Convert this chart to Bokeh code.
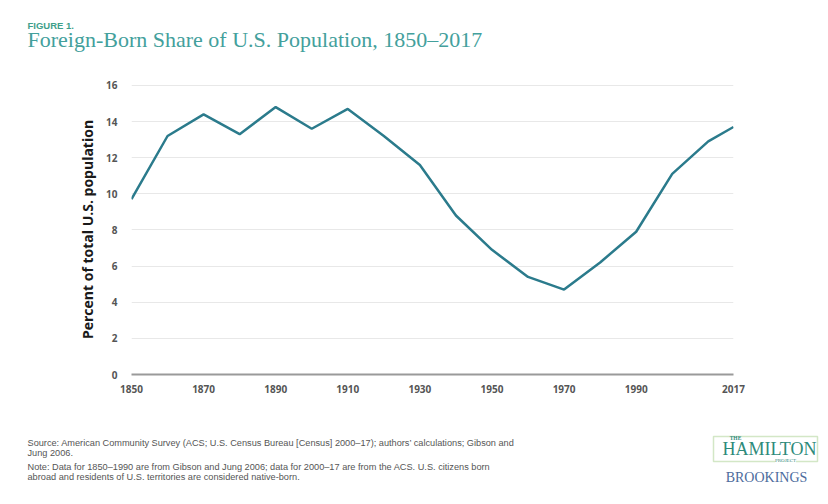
from bokeh.plotting import figure
from bokeh.layouts import column, row
from bokeh.models import Range1d, FixedTicker
from bokeh.core.properties import value
from bokeh.embed import file_html
from bokeh.resources import INLINE

# ---- data ----
years = [1850, 1860, 1870, 1880, 1890, 1900, 1910, 1920, 1930, 1940,
         1950, 1960, 1970, 1980, 1990, 2000, 2010, 2017]
pct = [9.7, 13.2, 14.4, 13.3, 14.8, 13.6, 14.7, 13.2, 11.6, 8.8,
       6.9, 5.4, 4.7, 6.2, 7.9, 11.1, 12.9, 13.7]
x_ticks = [1850, 1870, 1890, 1910, 1930, 1950, 1970, 1990, 2017]
y_ticks = [0, 2, 4, 6, 8, 10, 12, 14, 16]

fig_label = "FIGURE 1."
title = "Foreign-Born Share of U.S. Population, 1850\u20132017"
y_label = "Percent of total U.S. population"
notes = [
    "Source: American Community Survey (ACS; U.S. Census Bureau [Census] 2000\u201317); authors\u2019 calculations; Gibson and",
    "Jung 2006.",
    "Note: Data for 1850\u20131990 are from Gibson and Jung 2006; data for 2000\u201317 are from the ACS. U.S. citizens born",
    "abroad and residents of U.S. territories are considered native-born.",
]

W = 828
H_HEAD, H_MAIN, H_FOOT = 62, 358, 84


def blank(width, height, x0, x1, y0, y1):
    f = figure(width=width, height=height, output_backend="svg",
               toolbar_location=None, x_range=Range1d(x0, x1),
               y_range=Range1d(y1, y0), x_axis_location=None,
               y_axis_location=None, min_border=0)
    f.outline_line_color = None
    f.grid.visible = False
    f.background_fill_color = "white"
    f.border_fill_color = "white"
    return f


# ---- header ----
head = blank(W, H_HEAD, 0, W, 0, H_HEAD)
head.text(x=[27], y=[24.5], text=[fig_label], text_font=value("Liberation Sans"),
          text_font_style="bold", text_font_size="9.5px", text_color="#3fa08a",
          text_baseline="alphabetic")
head.text(x=[27], y=[38.5], text=[title], text_font=value("Liberation Serif"),
          text_font_size="22px", text_color="#43a09c",
          text_baseline="alphabetic")

# ---- main chart ----
p = figure(width=W, height=H_MAIN, output_backend="svg", toolbar_location=None,
           x_range=Range1d(1850, 2017), y_range=Range1d(0, 16.05),
           min_border_left=131, min_border_right=95, min_border_top=22,
           min_border_bottom=46)
p.outline_line_color = None
p.background_fill_color = "white"
p.border_fill_color = "white"

p.line(years, pct, line_color="#2b7b8c", line_width=2.5)

p.xgrid.visible = False
p.ygrid.grid_line_color = "#e8e8e8"
p.ygrid.grid_line_width = 1.2
p.yaxis.ticker = FixedTicker(ticks=y_ticks)
p.xaxis.ticker = FixedTicker(ticks=x_ticks)

for ax in (p.xaxis, p.yaxis):
    ax.major_tick_line_color = None
    ax.minor_tick_line_color = None
    ax.major_label_text_font = "Open Sans"
    ax.major_label_text_font_style = "bold"
    ax.major_label_text_font_size = "10px"
    ax.major_label_text_color = "#555555"

p.yaxis.axis_line_color = None
p.yaxis.major_label_standoff = 8
p.yaxis.axis_label = y_label
p.yaxis.axis_label_text_font = "Open Sans"
p.yaxis.axis_label_text_font_style = "bold"
p.yaxis.axis_label_text_font_size = "14px"
p.yaxis.axis_label_text_color = "#1a1a1a"
p.yaxis.axis_label_standoff = 6

p.xaxis.axis_line_color = "#9a9a9a"
p.xaxis.axis_line_width = 2
p.xaxis.major_label_standoff = 4

# ---- footer: notes ----
NW = 690
foot = blank(NW, H_FOOT, 0, NW, 420, 504)
for txt, yb in zip(notes, [442.3, 452.3, 466.3, 476.5]):
    foot.text(x=[27], y=[yb], text=[txt], text_font=value("Liberation Sans"),
              text_font_size="9.2px", text_color="#555555",
              text_baseline="alphabetic")

# ---- footer: logo ----
logo = blank(W - NW, H_FOOT, NW, W, 420, 504)
logo.quad(left=[713], right=[817], top=[436], bottom=[461], fill_alpha=0,
          line_color="#d3e7c6", line_width=1.5)
logo.text(x=[735], y=[437.5], text=["THE"], text_font=value("Liberation Serif"),
          text_font_style="bold", text_font_size="5.5px", text_color="#2e8a7a",
          text_align="center", text_baseline="alphabetic")
logo.text(x=[769], y=[448.7], text=["HAMILTON"],
          text_font=value("Liberation Serif"), text_font_size="18px",
          text_color="#2e8a7a", text_align="center",
          text_baseline="alphabetic")
logo.text(x=[785], y=[460], text=["PROJECT"],
          text_font=value("Liberation Serif"), text_font_size="5px",
          text_color="#2e8a7a", text_align="center",
          text_baseline="alphabetic", background_fill_color="white")
logo.text(x=[766], y=[476.6], text=["BROOKINGS"],
          text_font=value("Liberation Serif"), text_font_size="14px",
          text_color="#4c6b9c", text_align="center",
          text_baseline="alphabetic")

layout = column(row(head, spacing=0), p, row(foot, logo, spacing=0), spacing=0)
open("out.html", "w").write(file_html(layout, INLINE))
